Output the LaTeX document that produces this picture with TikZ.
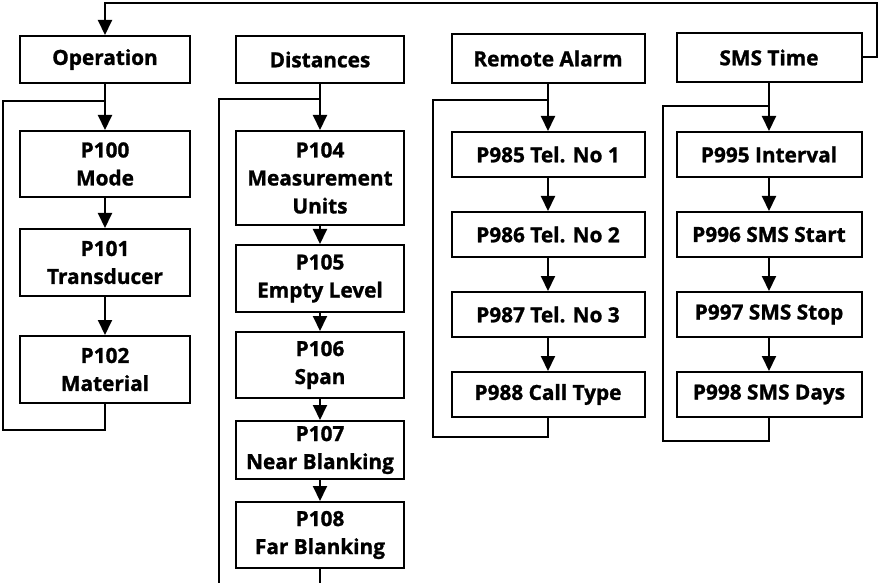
\documentclass[tikz,border=0pt]{standalone}
\usepackage{fontspec}
\setmainfont[BoldFeatures={FakeBold=1.2}]{Open Sans}
\usetikzlibrary{arrows.meta}
\begin{document}
\begin{tikzpicture}[x=1pt,y=-1pt,
  line width=2pt,
  box/.style={draw, line width=2pt, inner sep=0pt, align=center,
    font=\bfseries\fontsize{20.8}{28}\selectfont},
  arr/.style={-{Triangle[width=14pt,length=15pt]}},
  hd/.style={shorten <=3pt}]
\useasboundingbox (0,0) rectangle (879,583);
% headers
\node[box, minimum width=170pt, minimum height=47pt] (op) at (105,59.5) {Operation};
\node[box, minimum width=168pt, minimum height=47pt] (di) at (320,59.5) {Distances};
\node[box, minimum width=193pt, minimum height=49pt] (ra) at (548,58.5) {Remote Alarm};
\node[box, minimum width=185pt, minimum height=49pt] (st) at (769,57.5) {SMS Time};
% column 1
\node[box, minimum width=170pt, minimum height=66pt] (p100) at (105,164) {P100\\Mode};
\node[box, minimum width=170pt, minimum height=67pt] (p101) at (105,262.5) {P101\\Transducer};
\node[box, minimum width=170pt, minimum height=67pt] (p102) at (105,369.5) {P102\\Material};
% column 2
\node[box, minimum width=168pt, minimum height=94pt] (p104) at (320,178) {P104\\Measurement\\Units};
\node[box, minimum width=168pt, minimum height=67pt] (p105) at (320,278.5) {P105\\Empty Level};
\node[box, minimum width=168pt, minimum height=66pt] (p106) at (320,365) {P106\\Span};
\node[box, minimum width=168pt, minimum height=58pt] (p107) at (320,450) {P107\\Near Blanking};
\node[box, minimum width=168pt, minimum height=66pt] (p108) at (320,535) {P108\\Far Blanking};
% column 3
\node[box, minimum width=193pt, minimum height=45pt] (p985) at (548,154.5) {P985 Tel. No 1};
\node[box, minimum width=193pt, minimum height=45pt] (p986) at (548,234.5) {P986 Tel. No 2};
\node[box, minimum width=193pt, minimum height=45pt] (p987) at (548,314.5) {P987 Tel. No 3};
\node[box, minimum width=193pt, minimum height=45pt] (p988) at (548,394.5) {P988 Call Type};
% column 4
\node[box, minimum width=185pt, minimum height=45pt] (p995) at (769,154.5) {P995 Interval};
\node[box, minimum width=185pt, minimum height=45pt] (p996) at (769,234.5) {P996 SMS Start};
\node[box, minimum width=185pt, minimum height=45pt] (p997) at (769,314.5) {P997 SMS Stop};
\node[box, minimum width=185pt, minimum height=45pt] (p998) at (769,394.5) {P998 SMS Days};
% loop coordinates
\coordinate (tr) at (877,3);
\coordinate (l1b) at (3,430);
\coordinate (l1t) at (3,101);
\coordinate (l2b) at (219,583);
\coordinate (l2t) at (219,99);
\coordinate (m2b) at (320,583);
\coordinate (l3b) at (433,437);
\coordinate (l3t) at (433,100);
\coordinate (l4b) at (663,441);
\coordinate (l4t) at (663,106);
% top return
\draw[arr] (st.east) -| (tr) -| (op.north);
% column 1
\draw[arr,hd] (op) -- (p100);
\draw[arr] (p100) -- (p101);
\draw[arr] (p101) -- (p102);
\draw (p102.south) |- (l1b) -- (l1t) -| (op.south);
% column 2
\draw[arr,hd] (di) -- (p104);
\draw[arr] (p104) -- (p105);
\draw[arr] (p105) -- (p106);
\draw[arr] (p106) -- (p107);
\draw[arr] (p107) -- (p108);
\draw (p108.south) -- (m2b);
\draw (l2b) -- (l2t) -| (di.south);
% column 3
\draw[arr,hd] (ra) -- (p985);
\draw[arr] (p985) -- (p986);
\draw[arr] (p986) -- (p987);
\draw[arr] (p987) -- (p988);
\draw (p988.south) |- (l3b) -- (l3t) -| (ra.south);
% column 4
\draw[arr,hd] (st) -- (p995);
\draw[arr] (p995) -- (p996);
\draw[arr] (p996) -- (p997);
\draw[arr] (p997) -- (p998);
\draw (p998.south) |- (l4b) -- (l4t) -| (st.south);
\end{tikzpicture}
\end{document}
